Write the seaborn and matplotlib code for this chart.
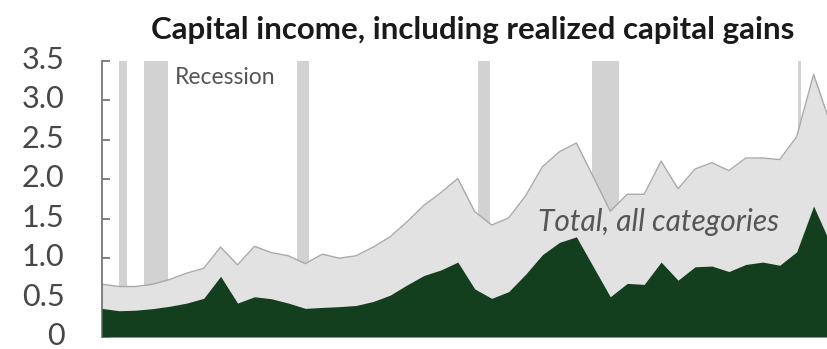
import numpy as np
import pandas as pd
import matplotlib
matplotlib.use("Agg")
import matplotlib.pyplot as plt
import matplotlib.transforms as mtransforms
import seaborn as sns

years = list(range(1979, 2023))
total = [0.67, 0.64, 0.64, 0.67, 0.73, 0.81, 0.87, 1.14, 0.915, 1.15,
         1.07, 1.03, 0.93, 1.05, 1.00, 1.03, 1.14, 1.27, 1.46, 1.67,
         1.83, 2.01, 1.59, 1.42, 1.51, 1.79, 2.16, 2.35, 2.46, 2.03,
         1.595, 1.81, 1.81, 2.23, 1.88, 2.13, 2.21, 2.11, 2.27, 2.27,
         2.25, 2.54, 3.33, 2.70]
capital = [0.363, 0.333, 0.34, 0.36, 0.39, 0.43, 0.49, 0.77, 0.43, 0.51,
           0.485, 0.43, 0.363, 0.375, 0.385, 0.40, 0.45, 0.53, 0.66, 0.78,
           0.85, 0.95, 0.61, 0.49, 0.575, 0.795, 1.045, 1.20, 1.27, 0.89,
           0.51, 0.68, 0.667, 0.95, 0.72, 0.89, 0.90, 0.83, 0.92, 0.95,
           0.91, 1.08, 1.66, 1.18]
rec_start = [1980.0, 1981.5, 1990.5, 2001.2, 2007.9, 2020.1]
rec_end = [1980.5, 1982.9, 1991.2, 2001.9, 2009.5, 2020.25]
yticks = [0, 0.5, 1.0, 1.5, 2.0, 2.5, 3.0, 3.5]
ytick_labels = ["0", "0.5", "1.0", "1.5", "2.0", "2.5", "3.0", "3.5"]

df = pd.DataFrame({"year": years, "total": total, "capital": capital})

sns.set_theme(style="white")
plt.rcParams["font.family"] = ["Lato", "DejaVu Sans"]

fig = plt.figure(figsize=(8.28, 3.49), dpi=100)
ax = fig.add_axes([102 / 828, (349 - 337) / 349, 1 - 102 / 828, (337 - 61) / 349])

for s, e in zip(rec_start, rec_end):
    ax.axvspan(s, e, color="#d2d2d2", lw=0, zorder=0)

ax.fill_between(df["year"], 0, df["total"], color="#e2e2e2", lw=0, zorder=1)
sns.lineplot(data=df, x="year", y="total", color="#a9a9a9", lw=1.0, ax=ax, zorder=2)
ax.fill_between(df["year"], 0, df["capital"], color="#133f1e", lw=0, zorder=3)

ax.set_xlim(1979, 2021.85)
ax.set_ylim(0, 3.5)
ax.set_yticks(yticks)
ax.set_yticklabels(ytick_labels, fontsize=22, color="#474747")
ax.tick_params(axis="y", direction="in", length=6, width=1.3, color="#777777", pad=27, left=True)
offset = mtransforms.ScaledTranslation(0, 2.5 / 72, fig.dpi_scale_trans)
for lbl in ax.get_yticklabels():
    lbl.set_transform(lbl.get_transform() + offset)
ax.set_xticks([])
ax.set_xlabel("")
ax.set_ylabel("")
for side in ["top", "right", "bottom"]:
    ax.spines[side].set_visible(False)
ax.spines["left"].set_color("#777777")
ax.spines["left"].set_linewidth(1.3)
ax.grid(False)

ax.text(1983.3, 3.29, "Recession", fontsize=16.5, color="#555555", va="center", ha="left", zorder=5)
ax.text(2011.86, 1.46, "Total, all categories", fontsize=21.5, color="#555555",
        style="italic", va="center", ha="center", zorder=5)

fig.text(473 / 828, 1 - 30 / 349, "Capital income, including realized capital gains",
         fontsize=22.5, fontweight="bold", color="#1a1a1a", ha="center", va="center")

fig.savefig("out.png", dpi=100)
